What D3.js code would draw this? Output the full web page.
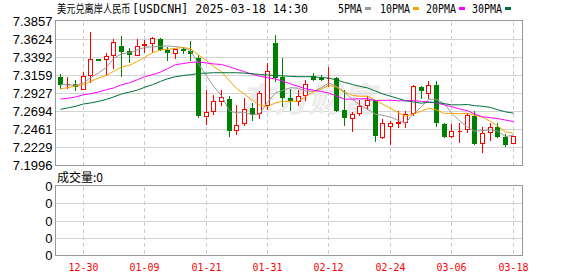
<!DOCTYPE html>
<html>
<head>
<meta charset="utf-8">
<script src="https://cdn.jsdelivr.net/npm/d3@7"></script>
<style>
  html, body { margin: 0; padding: 0; background: #fff; }
  svg { display: block; }
</style>
</head>
<body>
<svg id="chart" width="578" height="276"></svg>
<script>
// trading days shown (MM-DD)
const dates = [
  "12-25", "12-26", "12-27", "12-30", "12-31", "01-01", "01-02", "01-03", "01-06", "01-07",
  "01-08", "01-09", "01-10", "01-13", "01-14", "01-15", "01-16", "01-17", "01-20", "01-21",
  "01-22", "01-23", "01-24", "01-27", "01-28", "01-29", "01-30", "01-31", "02-03", "02-04",
  "02-05", "02-06", "02-07", "02-10", "02-11", "02-12", "02-13", "02-14", "02-17", "02-18",
  "02-19", "02-20", "02-21", "02-24", "02-25", "02-26", "02-27", "02-28", "03-03", "03-04",
  "03-05", "03-06", "03-07", "03-10", "03-11", "03-12", "03-13", "03-14", "03-17", "03-18",
];

const open = [
  7.3135, 7.3045, 7.3049, 7.2990, 7.3160, 7.3367, 7.3367, 7.3418, 7.3543, 7.3474,
  7.3427, 7.3547, 7.3578, 7.3633, 7.3492, 7.3453, 7.3497, 7.3470, 7.3384, 7.2636,
  7.2696, 7.2834, 7.2859, 7.2455, 7.2541, 7.2743, 7.2670, 7.2773, 7.3582, 7.3135,
  7.2872, 7.2825, 7.2907, 7.3156, 7.3130, 7.3126, 7.3126, 7.2718, 7.2610, 7.2670,
  7.2773, 7.2847, 7.2361, 7.2511, 7.2551, 7.2558, 7.2670, 7.3010, 7.2933, 7.3040,
  7.2537, 7.2382, 7.2442, 7.2468, 7.2636, 7.2292, 7.2434, 7.2494, 7.2365, 7.2283,
];
const high = [
  7.3182, 7.3135, 7.3105, 7.3203, 7.3719, 7.3375, 7.3448, 7.3633, 7.3664, 7.3513,
  7.3633, 7.3616, 7.3655, 7.3646, 7.3526, 7.3500, 7.3526, 7.3599, 7.3418, 7.2976,
  7.2911, 7.2971, 7.2890, 7.2782, 7.2868, 7.2808, 7.2954, 7.3315, 7.3685, 7.3384,
  7.2980, 7.2971, 7.3100, 7.3186, 7.3169, 7.3268, 7.3143, 7.2976, 7.2687, 7.2847,
  7.2890, 7.2847, 7.2597, 7.2567, 7.2705, 7.2696, 7.3040, 7.3027, 7.3083, 7.3083,
  7.2546, 7.2533, 7.2541, 7.2675, 7.2696, 7.2498, 7.2546, 7.2546, 7.2408, 7.2378,
];
const low = [
  7.2997, 7.2997, 7.2971, 7.2985, 7.3070, 7.3355, 7.3169, 7.3255, 7.3148, 7.3328,
  7.3420, 7.3457, 7.3457, 7.3487, 7.3354, 7.3384, 7.3448, 7.3362, 7.2619, 7.2537,
  7.2661, 7.2773, 7.2374, 7.2404, 7.2515, 7.2584, 7.2606, 7.2730, 7.3092, 7.2761,
  7.2709, 7.2773, 7.2847, 7.3105, 7.3096, 7.3019, 7.2696, 7.2515, 7.2442, 7.2649,
  7.2730, 7.2318, 7.2352, 7.2275, 7.2494, 7.2490, 7.2644, 7.2868, 7.2868, 7.2503,
  7.2361, 7.2361, 7.2296, 7.2434, 7.2275, 7.2172, 7.2322, 7.2365, 7.2253, 7.2283,
];
const close = [
  7.3049, 7.3050, 7.3023, 7.3156, 7.3375, 7.3361, 7.3410, 7.3590, 7.3470, 7.3440,
  7.3539, 7.3565, 7.3642, 7.3496, 7.3461, 7.3500, 7.3494, 7.3448, 7.2644, 7.2687,
  7.2829, 7.2885, 7.2451, 7.2524, 7.2726, 7.2662, 7.2937, 7.3221, 7.3135, 7.2877,
  7.2838, 7.2898, 7.3044, 7.3113, 7.3117, 7.3130, 7.2709, 7.2623, 7.2666, 7.2769,
  7.2847, 7.2386, 7.2550, 7.2550, 7.2558, 7.2666, 7.3027, 7.2967, 7.3040, 7.2554,
  7.2374, 7.2447, 7.2446, 7.2644, 7.2283, 7.2421, 7.2490, 7.2374, 7.2275, 7.2378,
];

// moving averages as plotted
const ma5 = [
  7.3040, 7.3036, 7.3036, 7.3062, 7.3131, 7.3193, 7.3265, 7.3378, 7.3441, 7.3454,
  7.3490, 7.3521, 7.3531, 7.3536, 7.3541, 7.3533, 7.3519, 7.3480, 7.3309, 7.3155,
  7.3020, 7.2899, 7.2699, 7.2675, 7.2683, 7.2650, 7.2660, 7.2814, 7.2936, 7.2966,
  7.3002, 7.2994, 7.2958, 7.2954, 7.3002, 7.3060, 7.3023, 7.2938, 7.2849, 7.2779,
  7.2723, 7.2658, 7.2644, 7.2620, 7.2578, 7.2542, 7.2670, 7.2754, 7.2852, 7.2851,
  7.2792, 7.2676, 7.2572, 7.2493, 7.2439, 7.2448, 7.2457, 7.2442, 7.2369, 7.2388,
];
const ma10 = [
  7.2988, 7.3001, 7.3023, 7.3040, 7.3083, 7.3126, 7.3160, 7.3212, 7.3268, 7.3292,
  7.3341, 7.3393, 7.3455, 7.3489, 7.3497, 7.3511, 7.3520, 7.3506, 7.3423, 7.3348,
  7.3277, 7.3209, 7.3090, 7.2992, 7.2919, 7.2835, 7.2779, 7.2757, 7.2806, 7.2825,
  7.2826, 7.2827, 7.2886, 7.2945, 7.2984, 7.3031, 7.3008, 7.2948, 7.2902, 7.2891,
  7.2892, 7.2840, 7.2791, 7.2735, 7.2679, 7.2632, 7.2664, 7.2699, 7.2736, 7.2715,
  7.2667, 7.2673, 7.2663, 7.2672, 7.2645, 7.2620, 7.2567, 7.2507, 7.2431, 7.2413,
];
const ma20 = [
  7.2855, 7.2864, 7.2881, 7.2911, 7.2924, 7.2945, 7.2976, 7.2997, 7.3040, 7.3066,
  7.3105, 7.3143, 7.3169, 7.3203, 7.3246, 7.3298, 7.3315, 7.3328, 7.3335, 7.3320,
  7.3309, 7.3301, 7.3272, 7.3241, 7.3208, 7.3173, 7.3150, 7.3131, 7.3114, 7.3086,
  7.3051, 7.3018, 7.2988, 7.2969, 7.2952, 7.2933, 7.2894, 7.2853, 7.2854, 7.2858,
  7.2859, 7.2834, 7.2839, 7.2840, 7.2832, 7.2832, 7.2836, 7.2824, 7.2819, 7.2803,
  7.2779, 7.2757, 7.2727, 7.2704, 7.2662, 7.2626, 7.2615, 7.2603, 7.2583, 7.2564,
];
const ma30 = [
  7.2722, 7.2739, 7.2761, 7.2791, 7.2804, 7.2825, 7.2851, 7.2881, 7.2920, 7.2945,
  7.2971, 7.3006, 7.3040, 7.3083, 7.3117, 7.3143, 7.3160, 7.3169, 7.3186, 7.3190,
  7.3195, 7.3195, 7.3195, 7.3195, 7.3190, 7.3182, 7.3173, 7.3165, 7.3158, 7.3155,
  7.3148, 7.3143, 7.3144, 7.3142, 7.3133, 7.3126, 7.3102, 7.3070, 7.3043, 7.3021,
  7.2998, 7.2959, 7.2922, 7.2891, 7.2861, 7.2833, 7.2817, 7.2801, 7.2814, 7.2810,
  7.2795, 7.2780, 7.2780, 7.2784, 7.2769, 7.2761, 7.2746, 7.2718, 7.2689, 7.2673,
];

const priceTicks = [7.3857, 7.3624, 7.3392, 7.3159, 7.2927, 7.2694, 7.2461, 7.2229, 7.1996];
const dateTicks = ["12-30", "01-09", "01-21", "01-31", "02-12", "02-24", "03-06", "03-18"];
const volumeTicks = ["0", "0", "0", "0", "0"];
const volumeLabel = "成交量:0";
const titleName = "美元兑离岸人民币";
const titleCode = "[USDCNH] 2025-03-18 14:30";
const maNames = ["5PMA", "10PMA", "20PMA", "30PMA"];
const maColors = ["#999999", "#f5a300", "#ff00ff", "#00703a"];

const svg = d3.select("#chart");
const left = 55.5, right = 522.5;
const mainTop = 21.5, mainBottom = 165.5;
const volTop = 186.5, volBottom = 255.5;

const x = d3.scaleBand().domain(dates).range([56.4, 517.1]);
const col = (d) => Math.round(x(d) + x.bandwidth() / 2 - 0.5);
const y = d3.scaleLinear().domain([7.1996, 7.3857]).range([mainBottom, mainTop]);
const yv = d3.scalePoint().domain(d3.range(volumeTicks.length)).range([volTop, volBottom]);
const snap = (v) => Math.round(v - 0.5) + 0.5;

// grid
const grid = svg.append("g").attr("shape-rendering", "crispEdges");
grid.selectAll(".hp").data(priceTicks.slice(1, -1)).join("line")
  .attr("x1", left).attr("x2", right)
  .attr("y1", (d) => snap(y(d))).attr("y2", (d) => snap(y(d)))
  .attr("stroke", "#d4d4d4");
grid.selectAll(".hv").data(d3.range(1, volumeTicks.length - 1)).join("line")
  .attr("class", "hv")
  .attr("x1", left).attr("x2", right)
  .attr("y1", (d) => snap(yv(d))).attr("y2", (d) => snap(yv(d)))
  .attr("stroke", "#d4d4d4");
[[mainTop, mainBottom], [volTop, volBottom]].forEach(([t, b]) => {
  grid.append("g").selectAll("line").data(dateTicks).join("line")
    .attr("x1", (d) => col(d) + 0.5).attr("x2", (d) => col(d) + 0.5)
    .attr("y1", t).attr("y2", b)
    .attr("stroke", "#cccccc").attr("stroke-dasharray", "4,3");
});

// watermark
svg.append("text")
  .attr("x", 240).attr("y", 112)
  .attr("font-family", "'Noto Sans CJK SC'").attr("font-size", 34).attr("font-weight", "bold")
  .attr("font-style", "italic")
  .attr("fill", "#ececec")
  .text("东方财富");

// candles
const plot = svg.append("g");
const candles = plot.selectAll("g.c").data(dates).join("g").attr("class", "c");
candles.each(function (d, i) {
  const g = d3.select(this);
  const up = close[i] >= open[i];
  const color = up ? "#ff0000" : "#008000";
  const cx = col(d);
  const top = Math.round(y(Math.max(open[i], close[i])));
  const bot = Math.round(y(Math.min(open[i], close[i])));
  const hi = Math.round(y(high[i]));
  const lo = Math.round(y(low[i]));
  g.append("line")
    .attr("x1", cx + 0.5).attr("x2", cx + 0.5)
    .attr("y1", hi).attr("y2", top)
    .attr("stroke", color).attr("shape-rendering", "crispEdges");
  g.append("line")
    .attr("x1", cx + 0.5).attr("x2", cx + 0.5)
    .attr("y1", bot).attr("y2", lo + 1)
    .attr("stroke", color).attr("shape-rendering", "crispEdges");
  if (up) {
    g.append("path")
      .attr("d", `M${cx - 1.5},${top + 0.5}H${cx + 2.5}V${bot + 0.5}H${cx - 1.5}Z`)
      .attr("fill", "#fff").attr("stroke", color).attr("shape-rendering", "crispEdges");
  } else {
    g.append("rect")
      .attr("x", cx - 2).attr("width", 5)
      .attr("y", top).attr("height", Math.max(1, bot - top + 1))
      .attr("fill", color).attr("shape-rendering", "crispEdges");
  }
});

// moving averages
const line = (vals) => d3.line()
  .x((d, i) => col(dates[i]) + 0.5)
  .y((d) => y(d))(vals);
[ma5, ma10, ma20, ma30].forEach((vals, k) => {
  svg.append("path")
    .attr("d", line(vals))
    .attr("fill", "none")
    .attr("stroke", maColors[k])
    .attr("stroke-width", 1);
});

// frames
[[mainTop - 1, mainBottom], [volTop - 1, volBottom]].forEach(([t, b]) => {
  svg.append("rect")
    .attr("x", left).attr("y", t)
    .attr("width", right - left).attr("height", b - t)
    .attr("fill", "none").attr("stroke", "#999999")
    .attr("shape-rendering", "crispEdges");
});

// price axis labels
svg.append("g").selectAll("text").data(priceTicks).join("text")
  .attr("x", 52.5).attr("y", (d) => y(d))
  .attr("dy", "0.36em")
  .attr("text-anchor", "end")
  .attr("font-family", "'Liberation Sans', Arial, sans-serif")
  .attr("font-size", 13)
  .attr("fill", "#000")
  .text((d) => d.toFixed(4));

// volume labels
svg.append("g").selectAll("text").data(volumeTicks).join("text")
  .attr("x", 52.5).attr("y", (d, i) => yv(i))
  .attr("dy", "0.36em")
  .attr("text-anchor", "end")
  .attr("font-family", "'Liberation Sans', Arial, sans-serif")
  .attr("font-size", 13)
  .attr("fill", "#000")
  .text((d) => d);

svg.append("text")
  .attr("x", 57).attr("y", 181.5)
  .attr("font-family", "'Noto Sans CJK SC', sans-serif")
  .attr("font-size", 12)
  .attr("fill", "#000")
  .text(volumeLabel);

// date labels
svg.append("g").selectAll("text").data(dateTicks).join("text")
  .attr("x", (d) => col(d) + 0.5).attr("y", 270.5)
  .attr("text-anchor", "middle")
  .attr("font-family", "'DejaVu Sans Mono', monospace")
  .attr("font-size", 11)
  .attr("textLength", 30).attr("lengthAdjust", "spacingAndGlyphs")
  .attr("fill", "#ff0000")
  .text((d) => d);

// title: narrow CJK name, then code and time
svg.append("text")
  .attr("transform", "translate(57,13.4) scale(0.8,1)")
  .attr("font-family", "'Noto Sans CJK SC', sans-serif")
  .attr("font-size", 11.5)
  .attr("fill", "#000")
  .text(titleName);
svg.append("text")
  .attr("x", 132).attr("y", 12.5)
  .attr("font-family", "'DejaVu Sans Mono', monospace")
  .attr("font-size", 12)
  .attr("textLength", 176).attr("lengthAdjust", "spacingAndGlyphs")
  .attr("fill", "#000")
  .text(titleCode);

// legend
const legendX = [338, 380, 426, 472];
const legendW = [24, 30, 30, 30];
const legend = svg.append("g");
maNames.forEach((name, k) => {
  legend.append("text")
    .attr("x", legendX[k]).attr("y", 12.5)
    .attr("font-family", "'DejaVu Sans Mono', monospace")
    .attr("font-size", 11.5)
    .attr("textLength", legendW[k]).attr("lengthAdjust", "spacingAndGlyphs")
    .attr("fill", "#000")
    .text(name);
  legend.append("rect")
    .attr("x", legendX[k] + legendW[k] + 3).attr("y", 7)
    .attr("width", 6).attr("height", 3)
    .attr("fill", maColors[k]);
});
</script>
</body>
</html>
